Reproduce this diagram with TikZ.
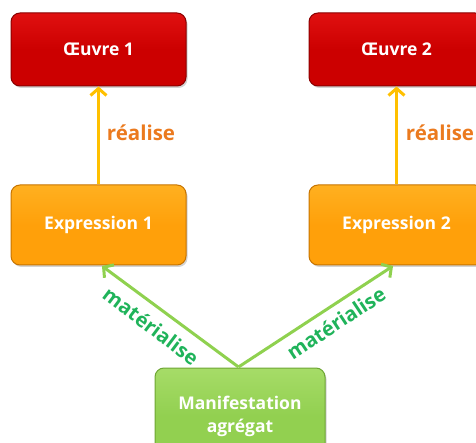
\documentclass[tikz,border=0pt]{standalone}
\usepackage{fontspec}
\setmainfont{Open Sans}
\usetikzlibrary{arrows.meta,shadows}
\definecolor{redbox}{HTML}{CC0000}
\definecolor{redtop}{HTML}{E01010}
\definecolor{rededge}{HTML}{8A0000}
\definecolor{orgbox}{HTML}{FFA00A}
\definecolor{orgtop}{HTML}{FFB020}
\definecolor{orgedge}{HTML}{C77400}
\definecolor{grnbox}{HTML}{92D050}
\definecolor{grntop}{HTML}{A6DC68}
\definecolor{grnedge}{HTML}{6EA634}
\definecolor{realarrow}{HTML}{FFC000}
\definecolor{realtext}{HTML}{EB7A1E}
\definecolor{matarrow}{HTML}{8FD14F}
\definecolor{mattext}{HTML}{1FB35A}
\tikzset{
  box/.style={rounded corners=9pt, minimum width=175pt, minimum height=#1, inner sep=0pt,
    font=\bfseries\fontsize{17.5}{23}\selectfont, text=white, align=center, line width=1pt,
    drop shadow={shadow xshift=1.5pt, shadow yshift=-2pt, opacity=0.35}},
  redstyle/.style={box=73pt, draw=rededge, top color=redtop, bottom color=redbox, middle color=redbox},
  orgstyle/.style={box=80pt, draw=orgedge, top color=orgtop, bottom color=orgbox, middle color=orgbox},
  grnstyle/.style={box=96pt, minimum width=170pt, draw=grnedge, top color=grntop, bottom color=grnbox, middle color=grnbox},
  realise/.style={draw=realarrow, line width=3pt, -{Straight Barb[length=7pt,width=16pt,line width=3pt]}},
  materialise/.style={draw=matarrow, line width=3pt, -{Straight Barb[length=7pt,width=16pt,line width=3pt]}},
  reallabel/.style={text=realtext, font=\bfseries\fontsize{20.5}{22}\selectfont},
  matlabel/.style={text=mattext, font=\bfseries\fontsize{20}{22}\selectfont},
}
\begin{document}
\begin{tikzpicture}[x=1pt,y=-1pt]
\useasboundingbox (0,0) rectangle (476,443);
\begin{scope}
\clip (0,0) rectangle (476,443);
\node[redstyle] (o1) at (98.5,49.5) {Œuvre 1};
\node[redstyle] (o2) at (396.5,49.5) {Œuvre 2};
\node[orgstyle] (e1) at (98.5,225) {Expression 1};
\node[orgstyle] (e2) at (396.5,225) {Expression 2};
\node[grnstyle] (m) at (240,416) {Manifestation\\agrégat};
\end{scope}
\coordinate (ms) at (238.5,367);
\coordinate (e1t) at (102,266);
\coordinate (e2t) at (393,266);
\draw[realise] (e1.south |- e1.north) -- (o1.south);
\draw[realise] (e2.south |- e2.north) -- (o2.south);
\draw[materialise] (ms) -- (e1t);
\draw[materialise] (ms) -- (e2t);
\node[reallabel] (r1) at (141,133) {réalise};
\node[reallabel] (r2) at (440,133) {réalise};
\node[matlabel, rotate=-37] (l1) at (151,326) {matérialise};
\node[matlabel, rotate=33.5] (l2) at (336,323) {matérialise};
\end{tikzpicture}
\end{document}
